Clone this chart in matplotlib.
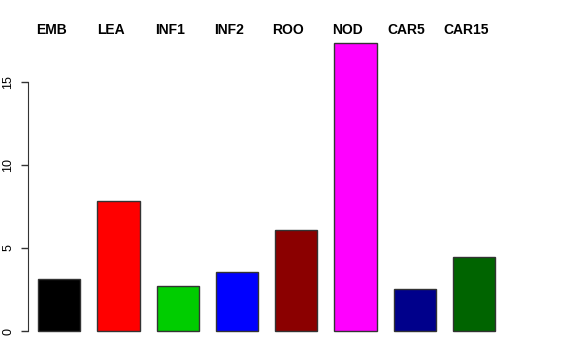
import numpy as np
import matplotlib
matplotlib.use('Agg')
import matplotlib.pyplot as plt
import matplotlib.transforms as mtransforms

# tissue categories and expression values
tissues = ['EMB', 'LEA', 'INF1', 'INF2', 'ROO', 'NOD', 'CAR5', 'CAR15']
values = [3.13, 7.83, 2.71, 3.55, 6.08, 17.35, 2.53, 4.46]
colors = ['#000000', '#FF0000', '#00CD00', '#0000FF', '#8B0000', '#FF00FF', '#00008B', '#006400']
yticks = [0, 5, 10, 15]

plt.rcParams['font.family'] = ['Liberation Sans', 'DejaVu Sans']

fig = plt.figure(figsize=(5.76, 3.6), dpi=100)
ax = fig.add_axes([28 / 576, 17 / 360, 485 / 576, 307 / 360])

x = np.arange(len(tissues))
ax.bar(x, values, width=1 / 1.4, color=colors, edgecolor='#333333', linewidth=1.0)

ax.set_xlim(-0.529, 7.66)
ax.set_ylim(-0.72, 17.77)

for s in ['top', 'right', 'bottom']:
    ax.spines[s].set_visible(False)
ax.spines['left'].set_bounds(0, 15)
ax.spines['left'].set_color('#333333')
ax.set_xticks([])
ax.set_yticks(yticks)
ax.set_yticklabels([str(t) for t in yticks], rotation=90, va='center')
ax.tick_params(axis='y', length=5, width=1, colors='#333333', labelcolor='black',
               labelsize=9, pad=5)

# labels above the bars
trans = mtransforms.blended_transform_factory(ax.transData, fig.transFigure)
for xi, name in zip(x, tissues):
    ax.text(xi - 0.135, (360 - 34.3) / 360, name, transform=trans, ha='center',
            va='baseline', fontsize=10, fontweight='bold', clip_on=False)

fig.savefig('out.png', dpi=100)
